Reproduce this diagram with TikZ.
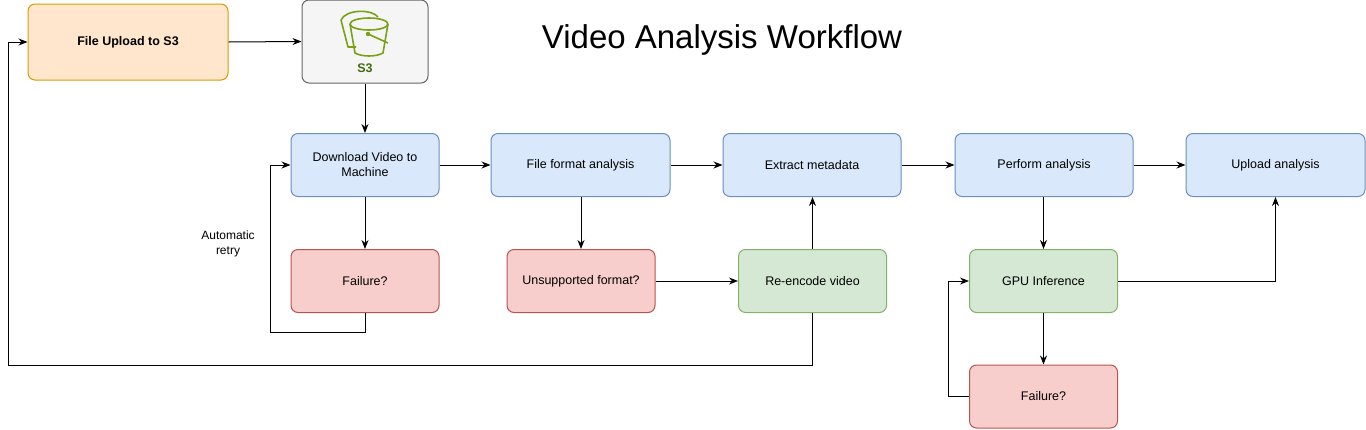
\documentclass[tikz,border=0pt]{standalone}
\usepackage{fontspec}
\setmainfont{Liberation Sans}
\usetikzlibrary{arrows.meta}

\definecolor{bluefill}{HTML}{DAE8FC}
\definecolor{bluedraw}{HTML}{6C8EBF}
\definecolor{redfill}{HTML}{F8CECC}
\definecolor{reddraw}{HTML}{B85450}
\definecolor{greenfill}{HTML}{D5E8D4}
\definecolor{greendraw}{HTML}{82B366}
\definecolor{orangefill}{HTML}{FFE6CC}
\definecolor{orangedraw}{HTML}{D79B00}
\definecolor{s3green}{HTML}{7AA116}
\definecolor{s3text}{HTML}{3F6B11}

\tikzset{
  box/.style={draw, line width=1pt, rounded corners=7pt, minimum width=148pt, minimum height=63pt,
    align=center, font=\fontsize{12.5pt}{15pt}\selectfont, inner sep=2pt},
  task/.style={box, fill=bluefill, draw=bluedraw},
  fail/.style={box, fill=redfill, draw=reddraw},
  fix/.style={box, fill=greenfill, draw=greendraw},
  flow/.style={-{Stealth[length=9pt,width=7pt]}, line width=1pt}
}

\begin{document}
\begin{tikzpicture}[x=1pt,y=-1pt]
  \useasboundingbox (0,0) rectangle (1366,429);

  % title
  \node (title) at (722,40) {\fontsize{33pt}{38pt}\selectfont Video Analysis Workflow};

  % upload and bucket
  \node[box, fill=orangefill, draw=orangedraw, minimum width=200pt, minimum height=76pt,
    font=\fontsize{12.5pt}{15pt}\selectfont\bfseries] (upload) at (128,42) {File Upload to S3};
  \node[box, fill=black!4, draw=black!60, minimum width=126pt, minimum height=83pt] (s3) at (365,41.5) {};
  \begin{scope}[draw=s3green, line width=1.6pt, line join=round]
    % back bucket
    \draw (341,20) -- (348,47) -- (356,47);
    \draw (341,20) .. controls (346,9) and (372,9) .. (378,17);
    % front bucket
    \draw (369,24) ellipse (19 and 6);
    \draw (350,24) -- (355,53) .. controls (362,57) and (376,57) .. (383,53) -- (388,24);
    \draw (368,34) -- (388,43);
    \fill[s3green] (368,34) circle (2.2);
  \end{scope}
  \node[text=s3text, font=\fontsize{12.5pt}{14pt}\selectfont\bfseries] (s3lbl) at (365,68) {S3};

  % main row
  \node[task] (download) at (365,165) {Download Video to\\Machine};
  \node[task, minimum width=179pt] (format) at (580.5,165) {File format analysis};
  \node[task, minimum width=178pt] (extract) at (812,165) {Extract metadata};
  \node[task, minimum width=178pt] (perform) at (1044,165) {Perform analysis};
  \node[task, minimum width=179pt] (result) at (1275.5,165) {Upload analysis};

  % second row
  \node[fail] (fail1) at (365,281) {Failure?};
  \node[fail] (unsup) at (581,281) {Unsupported format?};
  \node[fix] (reenc) at (812.5,281) {Re-encode video};
  \node[fix] (gpu) at (1043.5,281) {GPU Inference};
  \node[fail] (fail2) at (1043.5,396.5) {Failure?};

  \node[align=center, font=\fontsize{12pt}{15pt}\selectfont] (retry) at (228,244) {Automatic\\retry};

  % connectors
  \draw[flow] (upload.east) -- (s3.west);
  \draw[flow] (s3.south) -- (download.north);
  \draw[flow] (download) -- (format);
  \draw[flow] (format) -- (extract);
  \draw[flow] (extract) -- (perform);
  \draw[flow] (perform) -- (result);
  \draw[flow] (download) -- (fail1);
  \draw[flow] (fail1.south) |- (270,332) |- (download.west);
  \draw[flow] (format.south -| unsup.north) -- (unsup.north);
  \draw[flow] (unsup) -- (reenc);
  \draw[flow] (reenc.north) -- (reenc.north |- extract.south);
  \draw[flow] (reenc.south) |- (8,365) |- (upload.west);
  \draw[flow] (perform.south -| gpu.north) -- (gpu.north);
  \draw[flow] (gpu.east) -| (result.south);
  \draw[flow] (gpu) -- (fail2);
  \draw[flow] (fail2.west) -| (948,281) -- (gpu.west);
\end{tikzpicture}
\end{document}
